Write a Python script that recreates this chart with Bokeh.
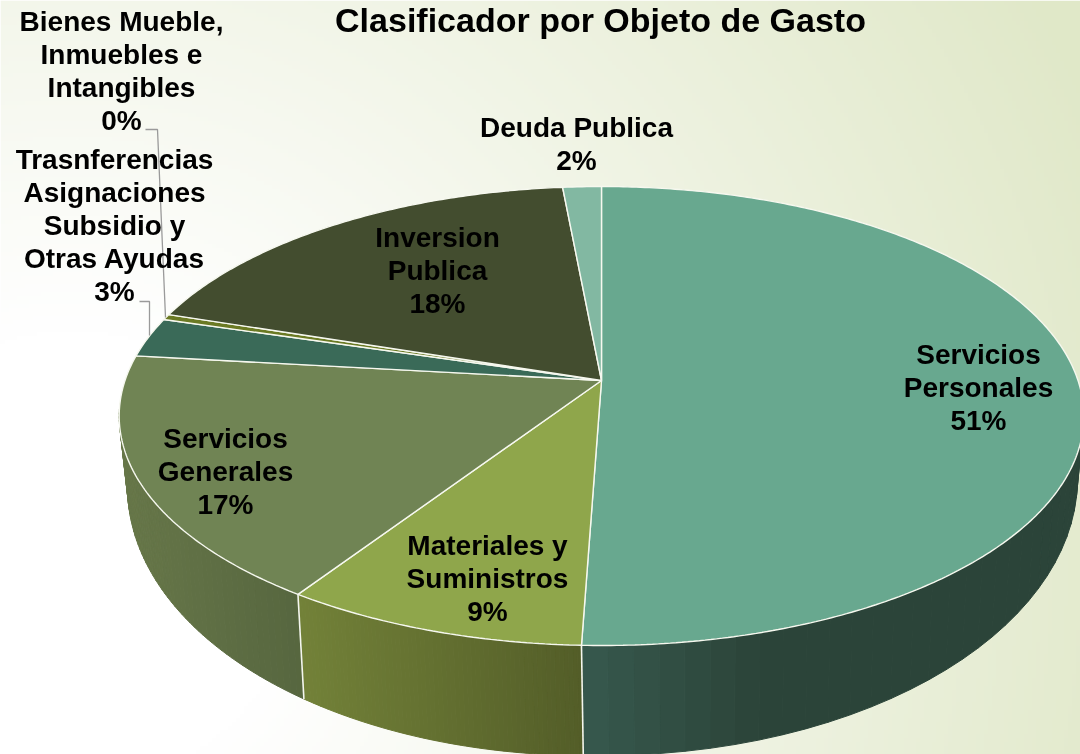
import numpy as np
from bokeh.plotting import figure
from bokeh.models import Range1d
from bokeh.core.properties import value
from bokeh.embed import file_html
from bokeh.resources import INLINE

title = "Clasificador por Objeto de Gasto"
categories = ["Servicios\nPersonales", "Materiales y\nSuministros", "Servicios\nGenerales",
              "Trasnferencias\nAsignaciones\nSubsidio y\nOtras Ayudas",
              "Bienes Mueble,\nInmuebles e\nIntangibles", "Inversion\nPublica", "Deuda Publica"]
values = [50.51, 8.79, 17.4, 2.8, 0.4, 18.49, 1.5]
top_colors = ["#68a88f", "#8fa64b", "#708454", "#3a6a58", "#6b7a24", "#434d2f", "#82b8a2"]
side_stops = [[(582, "#37584d"), (760, "#2b4439"), (1085, "#2b4439")],
              [(302, "#728138"), (582, "#535d28")],
              [(118, "#677749"), (302, "#56663f")],
              None, None, None, None]
label_x = [978, 487, 225, 114, 121, 437, 576]
label_y = [354, 545, 438, 159, 21, 237, 127]
line_h = 33

W, H = 1080, 754
AX, AY = 601.0, 380.0     # apex of the pie on the page
A, B, K = 476.5, 224.0, 0.1547
TCX, TCY, TRX, TRY = 600.5, 415.5, 482.5, 229.5
BCX, BCY, BRX, BRY = 602.0, 478.0, 475.0, 277.0

def Y(y):
    return H - np.asarray(y, dtype=float)

def rim(t):
    u, v = np.sin(t), -np.cos(t)
    d = 1 - K * v
    return AX + A * u / d, AY + B * v / d

def hex2rgb(c):
    return np.array([int(c[i:i + 2], 16) for i in (1, 3, 5)], dtype=float)

def side_colour(stops, x):
    xs = [s[0] for s in stops]
    rgb = np.array([hex2rgb(s[1]) for s in stops])
    r = [np.interp(x, xs, rgb[:, i]) for i in range(3)]
    return "#%02x%02x%02x" % tuple(int(round(c)) for c in r)

p = figure(width=W, height=H, x_range=Range1d(0, W), y_range=Range1d(0, H),
           output_backend="svg", toolbar_location=None, min_border=0,
           styles={"position": "fixed", "left": "0px", "top": "0px"})
p.axis.visible = False
p.grid.visible = False
p.outline_line_color = None
p.background_fill_color = "#ffffff"

# page backdrop: soft radial wash
gx, gy = np.meshgrid(np.linspace(0, W, 270), np.linspace(H, 0, 189))
d = np.hypot(gx - 70, (gy - 560) * 1.0)
f = np.clip((d - 230) / 900, 0, 1)
c0, c1 = hex2rgb("#ffffff"), hex2rgb("#e0e8c8")
img = np.zeros(gx.shape + (4,), dtype=np.uint8)
for i in range(3):
    img[..., i] = (c0[i] + (c1[i] - c0[i]) * f).astype(np.uint8)
img[..., 3] = 255
p.image_rgba(image=[img.view(np.uint32).reshape(gx.shape)], x=0, y=0, dw=W, dh=H)

edges = np.concatenate([[0], np.cumsum(values)]) / sum(values) * 2 * np.pi

# side wall
wall_edges = []
for i, stops in enumerate(side_stops):
    if stops is None:
        continue
    ts = np.linspace(edges[i], edges[i + 1], 70)
    xt, yt = rim(ts)
    phi = np.arctan2((yt - TCY) / TRY, (xt - TCX) / TRX)
    keep = (phi >= -0.02) & (phi <= np.pi + 0.02) | (phi < -3.1)
    phi = np.where(phi < -3.1, phi + 2 * np.pi, phi)
    xt, yt, phi = xt[keep], yt[keep], phi[keep]
    xb = BCX + BRX * np.cos(phi)
    yb = BCY + BRY * np.sin(phi) + 8 * np.clip(-np.cos(phi), 0, 1)
    xs, ys, cols = [], [], []
    for j in range(len(xt) - 1):
        xs.append([xt[j], xt[j + 1], xb[j + 1], xb[j]])
        ys.append(list(Y([yt[j], yt[j + 1], yb[j + 1], yb[j]])))
        cols.append(side_colour(stops, (xt[j] + xt[j + 1]) / 2))
    p.patches(xs, ys, fill_color=cols, line_color=cols, line_width=1)
    wall_edges.append((xt[0], yt[0], xb[0], yb[0]))

# white seams between wall sections
for k, (x0, y0, x1, y1) in enumerate(wall_edges):
    if k > 0:
        p.line([x0, x1], Y([y0, y1]), line_color="#f4f6ee", line_width=1.6)

# top face
for i, col in enumerate(top_colors):
    n = max(4, int(values[i] * 6))
    ts = np.linspace(edges[i], edges[i + 1], n)
    xt, yt = rim(ts)
    xs = np.concatenate([[AX], xt])
    ys = np.concatenate([[AY], yt])
    p.patch(xs, Y(ys), fill_color=col, line_color="#f6f8ef", line_width=1.4)

# leader lines
p.line([145, 157, 165], Y([129, 129, 317]), line_color="#9a9a9a", line_width=1.3)
p.line([139, 149, 149], Y([301, 301, 335]), line_color="#9a9a9a", line_width=1.3)

# labels
lx, ly, lt = [], [], []
for name, v, x0, y0 in zip(categories, values, label_x, label_y):
    lines = name.split("\n") + [f"{round(v)}%"]
    for j, s in enumerate(lines):
        lx.append(x0)
        ly.append(H - (y0 + j * line_h))
        lt.append(s)
p.text(lx, ly, text=lt, text_font=value("Liberation Sans"), text_font_style="bold",
       text_font_size="28px", text_align="center", text_baseline="middle", text_color="#000000")
p.text([600], [H - 19], text=[title], text_font=value("Liberation Sans"), text_font_style="bold",
       text_font_size="34px", text_align="center", text_baseline="middle", text_color="#000000")

open("out.html", "w").write(file_html(p, INLINE))
